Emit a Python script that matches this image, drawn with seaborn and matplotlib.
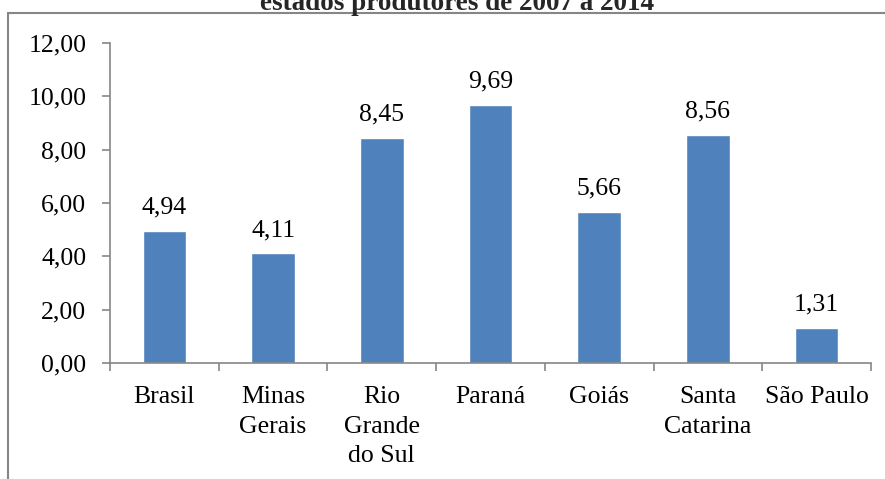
import matplotlib
matplotlib.use("Agg")
import matplotlib.pyplot as plt
import seaborn as sns
import pandas as pd
from matplotlib.patches import Rectangle

categories = ["Brasil", "Minas\nGerais", "Rio\nGrande\ndo Sul", "Paraná", "Goiás", "Santa\nCatarina", "São Paulo"]
values = [4.94, 4.11, 8.45, 9.69, 5.66, 8.56, 1.31]
yticks = [0, 2, 4, 6, 8, 10, 12]
title = "estados produtores de 2007 a 2014"

sns.set_theme(style="white")
plt.rcParams["font.family"] = ["Liberation Serif", "DejaVu Serif"]

W, H = 885, 479
fig = plt.figure(figsize=(W / 100, H / 100), dpi=100)
ax = fig.add_axes([110 / W, 1 - 363 / H, (871 - 110) / W, (363 - 43) / H])

df = pd.DataFrame({"cat": categories, "val": values})
sns.barplot(data=df, x="cat", y="val", color="#4F81BD", saturation=1, width=0.4, ax=ax)

gray = "#868686"
ax.set_xlim(-0.5, len(categories) - 0.5)
ax.set_ylim(0, 12)
ax.set_yticks(yticks)
ax.set_yticklabels([f"{v:.2f}".replace(".", ",") for v in yticks], fontsize=18.5, color="black")
ax.set_xlabel("")
ax.set_ylabel("")
for s in ["top", "right"]:
    ax.spines[s].set_visible(False)
for s in ["left", "bottom"]:
    ax.spines[s].set_color(gray)
    ax.spines[s].set_linewidth(1.2)

ax.set_xticks(range(len(categories)))
ax.set_xticklabels(categories, fontsize=18.5, color="black", linespacing=1.45)
ax.tick_params(axis="x", which="major", length=0, pad=16.5)
ax.set_xticks([i - 0.5 for i in range(len(categories) + 1)], minor=True)
ax.tick_params(axis="x", which="minor", length=5.5, width=1.2, color=gray, bottom=True)
ax.tick_params(axis="y", which="major", length=6, width=1.2, color=gray, left=True, pad=11)

for i, v in enumerate(values):
    ax.annotate(f"{v:.2f}".replace(".", ","), (i, v), xytext=(0, 12.5), textcoords="offset points",
                ha="center", va="baseline", fontsize=18.5, color="black")

fig.patches.append(Rectangle((8 / W, -0.1), 1.2, 1 - 13.5 / H + 0.1, transform=fig.transFigure,
                             fill=False, edgecolor=gray, linewidth=1.5))
fig.text(457 / W, 1 - 10 / H, title, ha="center", va="baseline", fontsize=19.5, fontweight="bold")

fig.savefig("out.png", dpi=100)
